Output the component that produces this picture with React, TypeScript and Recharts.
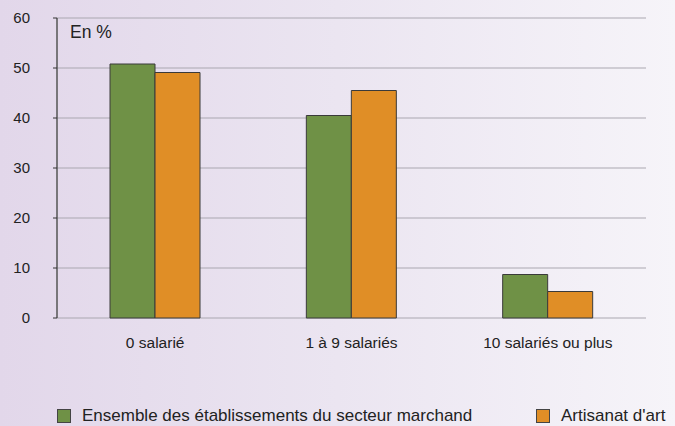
import React from 'react';
import { BarChart, Bar, XAxis, YAxis, CartesianGrid, Legend } from 'recharts';

const categories = ['0 salarié', '1 à 9 salariés', '10 salariés ou plus'];
const ensemble = [50.8, 40.5, 8.7];
const artisanat = [49.1, 45.5, 5.3];
const yTicks = [0, 10, 20, 30, 40, 50, 60];
const seriesNames = ['Ensemble des établissements du secteur marchand', "Artisanat d'art"];

const data = categories.map((c, i) => ({ cat: c, ensemble: ensemble[i], artisanat: artisanat[i] }));

const GREEN = '#6f9146';
const ORANGE = '#e08e26';
const FONT = 'Liberation Sans, Arial, sans-serif';

const LegendContent = () => (
  <div style={{ position: 'relative', width: 675, height: 20, fontFamily: FONT, fontSize: 17, color: '#222', lineHeight: '20px' }}>
    <div style={{ position: 'absolute', left: 57, top: 3, width: 12, height: 12, background: GREEN, border: '1px solid #444' }} />
    <div style={{ position: 'absolute', left: 82, top: 0, whiteSpace: 'nowrap' }}>{seriesNames[0]}</div>
    <div style={{ position: 'absolute', left: 536, top: 3, width: 12, height: 12, background: ORANGE, border: '1px solid #444' }} />
    <div style={{ position: 'absolute', left: 561, top: 0, whiteSpace: 'nowrap' }}>{seriesNames[1]}</div>
  </div>
);

export default function App() {
  return (
    <div
      style={{
        position: 'fixed',
        left: 0,
        top: 0,
        width: 675,
        height: 426,
        background: 'linear-gradient(to right, #e2d7ea 0%, #ebe5f1 50%, #f6f4f9 100%)',
        fontFamily: FONT,
      }}
    >
      <BarChart
        width={675}
        height={426}
        data={data}
        margin={{ top: 18, right: 29, bottom: 30, left: 0 }}
        barCategoryGap="27%"
        barGap={0}
      >
        <CartesianGrid horizontal vertical={false} stroke="#aaa7b0" strokeWidth={1} />
        <XAxis
          xAxisId="b"
          type="number"
          domain={[0, 3]}
          ticks={[0, 1, 2, 3]}
          tickFormatter={() => ''}
          height={0}
          axisLine={{ stroke: '#555', strokeWidth: 1.5 }}
          tickLine={{ stroke: '#333' }}
          tickSize={4}
          allowDataOverflow
        />
        <XAxis
          dataKey="cat"
          axisLine={false}
          tickLine={false}
          height={58}
          tick={{ fill: '#222', fontSize: 15.5, fontFamily: FONT }}
          tickMargin={13}
        />
        <YAxis
          domain={[0, 60]}
          ticks={yTicks}
          width={57}
          axisLine={{ stroke: '#555', strokeWidth: 1.5 }}
          tickLine={{ stroke: '#333' }}
          tickSize={4}
          tickMargin={23}
          tick={{ fill: '#222', fontSize: 15, fontFamily: FONT }}
          interval={0}
        />
        <Legend
          verticalAlign="bottom"
          content={<LegendContent />}
          wrapperStyle={{ position: 'absolute', left: 0, top: 406, width: 675 }}
        />
        <Bar dataKey="ensemble" name={seriesNames[0]} fill={GREEN} stroke="#3a3a3a" strokeWidth={1} isAnimationActive={false} />
        <Bar dataKey="artisanat" name={seriesNames[1]} fill={ORANGE} stroke="#3a3a3a" strokeWidth={1} isAnimationActive={false} />
      </BarChart>
      <div style={{ position: 'absolute', left: 70, top: 22, fontSize: 17.5, color: '#222', fontFamily: FONT }}>En %</div>
    </div>
  );
}
